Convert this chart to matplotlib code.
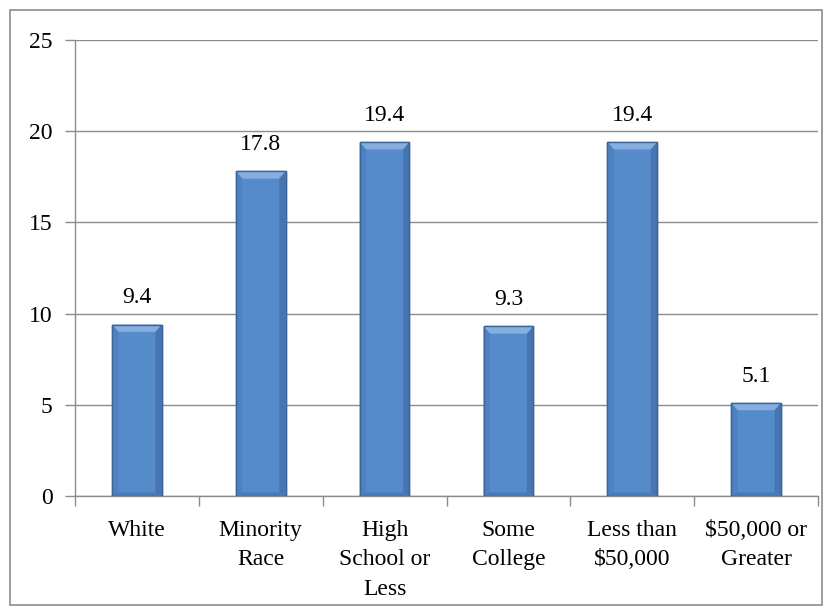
import matplotlib
matplotlib.use("Agg")
import matplotlib.pyplot as plt
from matplotlib.patches import Rectangle, Polygon
import numpy as np

categories = ["White", "Minority\nRace", "High\nSchool or\nLess", "Some\nCollege",
              "Less than\n$50,000", "$50,000 or\nGreater"]
values = [9.4, 17.8, 19.4, 9.3, 19.4, 5.1]
value_labels = ["9.4", "17.8", "19.4", "9.3", "19.4", "5.1"]
yticks = [0, 5, 10, 15, 20, 25]

plt.rcParams['font.family'] = ['Liberation Serif', 'DejaVu Serif']

fig = plt.figure(figsize=(8.32, 6.14), dpi=100)
# outer frame
fig.patches.append(Rectangle((10/832, 1 - 605/614), 812/832, 595/614,
                             transform=fig.transFigure, fill=False,
                             edgecolor='#8c8c8c', linewidth=1.2))
ax = fig.add_axes([75/832, 1 - 496/614, (818-75)/832, (496-40)/614])

x = np.arange(len(values))
bw = 0.4
ax.bar(x, values, width=bw, color='#558ACB', edgecolor='#3B6597',
       linewidth=1.0, zorder=3)

# bevel highlights derived from data
bev_x = 0.05
bev_y = 0.4
for xi, v in zip(x, values):
    l, r = xi - bw/2, xi + bw/2
    ax.add_patch(Polygon([(l, v), (r, v), (r - bev_x, v - bev_y), (l + bev_x, v - bev_y)],
                         closed=True, facecolor='#86AEE0', edgecolor='none', zorder=4))
    ax.add_patch(Polygon([(l, v), (l + bev_x, v - bev_y), (l + bev_x, bev_y * 0.5), (l, 0)],
                         closed=True, facecolor='#4E81C2', edgecolor='none', zorder=4))
    ax.add_patch(Polygon([(r, v), (r - bev_x, v - bev_y), (r - bev_x, bev_y * 0.5), (r, 0)],
                         closed=True, facecolor='#4675B2', edgecolor='none', zorder=4))
    ax.add_patch(Polygon([(l, 0), (r, 0), (r - bev_x, bev_y * 0.5), (l + bev_x, bev_y * 0.5)],
                         closed=True, facecolor='#4A7BB8', edgecolor='none', zorder=4))
    ax.add_patch(Rectangle((l, 0), bw, v, fill=False, edgecolor='#3B6597',
                           linewidth=1.0, zorder=5))

for xi, v, t in zip(x, values, value_labels):
    ax.text(xi, v + 0.9, t, ha='center', va='bottom', fontsize=17, color='black')

ax.set_xlim(-0.5, len(values) - 0.5)
ax.set_ylim(0, 25)
ax.set_yticks(yticks)
ax.set_yticklabels([str(t) for t in yticks], fontsize=17)
ax.yaxis.grid(True, color='#8c8c8c', linewidth=1.0, zorder=0)
ax.set_axisbelow(True)

ax.set_xticks(x)
ax.set_xticklabels(categories, fontsize=17, linespacing=1.55)
ax.tick_params(axis='x', length=0, pad=17)
ax.set_xticks(np.arange(-0.5, len(values), 1.0), minor=True)
ax.tick_params(axis='x', which='minor', length=7, color='#8c8c8c', width=1.0)
ax.tick_params(axis='y', length=7, color='#8c8c8c', width=1.0, pad=9)

for s in ['top', 'right']:
    ax.spines[s].set_visible(False)
for s in ['left', 'bottom']:
    ax.spines[s].set_color('#8c8c8c')
    ax.spines[s].set_linewidth(1.0)

fig.savefig("out.png", dpi=100)
